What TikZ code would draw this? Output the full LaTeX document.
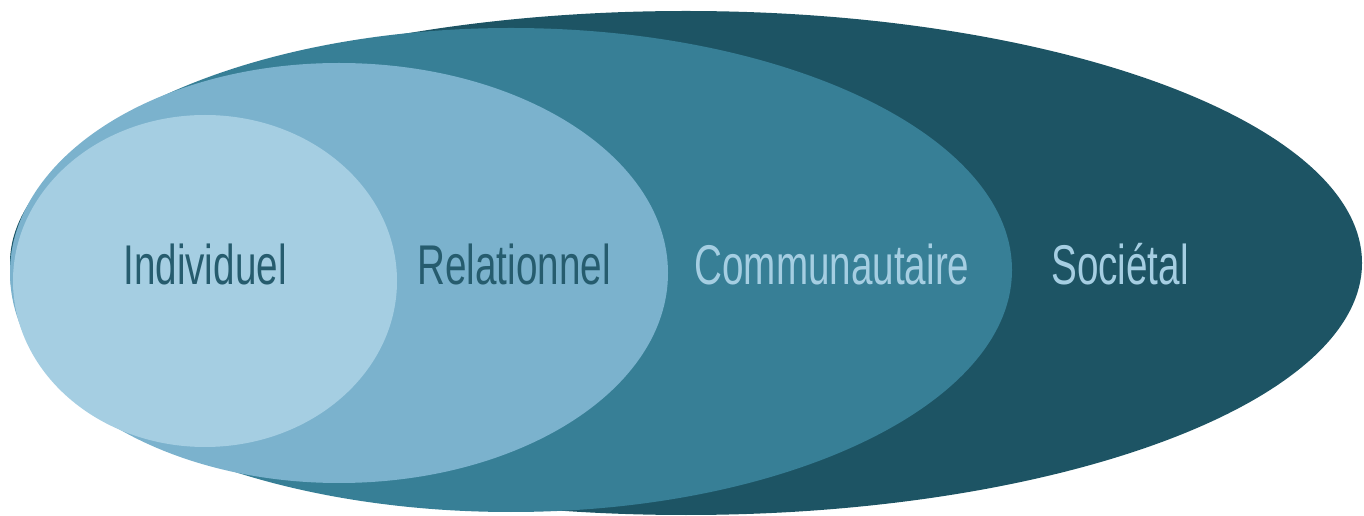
\documentclass[tikz,border=0pt]{standalone}
\usepackage{graphicx}
\usepackage{fontspec}
\setmainfont{Liberation Sans}
\usepackage{tikz}
\definecolor{societal}{RGB}{29,84,100}
\definecolor{commun}{RGB}{55,127,150}
\definecolor{relation}{RGB}{123,178,205}
\definecolor{indiv}{RGB}{165,206,226}
\definecolor{txtdark}{RGB}{38,92,110}
\newcommand{\narrowtxt}[1]{\scalebox{0.69}[1]{#1}}
\tikzset{
  lbl/.style={anchor=base, inner sep=0pt, font=\fontsize{42}{50}\selectfont},
}
\begin{document}
\begin{tikzpicture}[x=0.75pt,y=0.75pt,yscale=-1,xscale=1]
      \useasboundingbox (0,0) rectangle (1364,516);

      % Societal
      \fill [societal] (686,263) ellipse [x radius=676, y radius=252];
      % Communautaire
      \fill [commun] (511,270) ellipse [x radius=501, y radius=242];
      % Relationnel
      \fill [relation] (339,273) ellipse [x radius=329, y radius=210];
      % Individuel
      \fill [indiv] (205,281) ellipse [x radius=192, y radius=166];

      % Text Node
      \node [lbl, text=txtdark] (individuel) at (205,285) {\narrowtxt{Individuel}};
      % Text Node
      \node [lbl, text=txtdark] (relationnel) at (514,285) {\narrowtxt{Relationnel}};
      % Text Node
      \node [lbl, text=indiv] (communautaire) at (832,285) {\narrowtxt{Communautaire}};
      % Text Node
      \node [lbl, text=indiv] (societal) at (1120,285) {\narrowtxt{Sociétal}};
\end{tikzpicture}
\end{document}
